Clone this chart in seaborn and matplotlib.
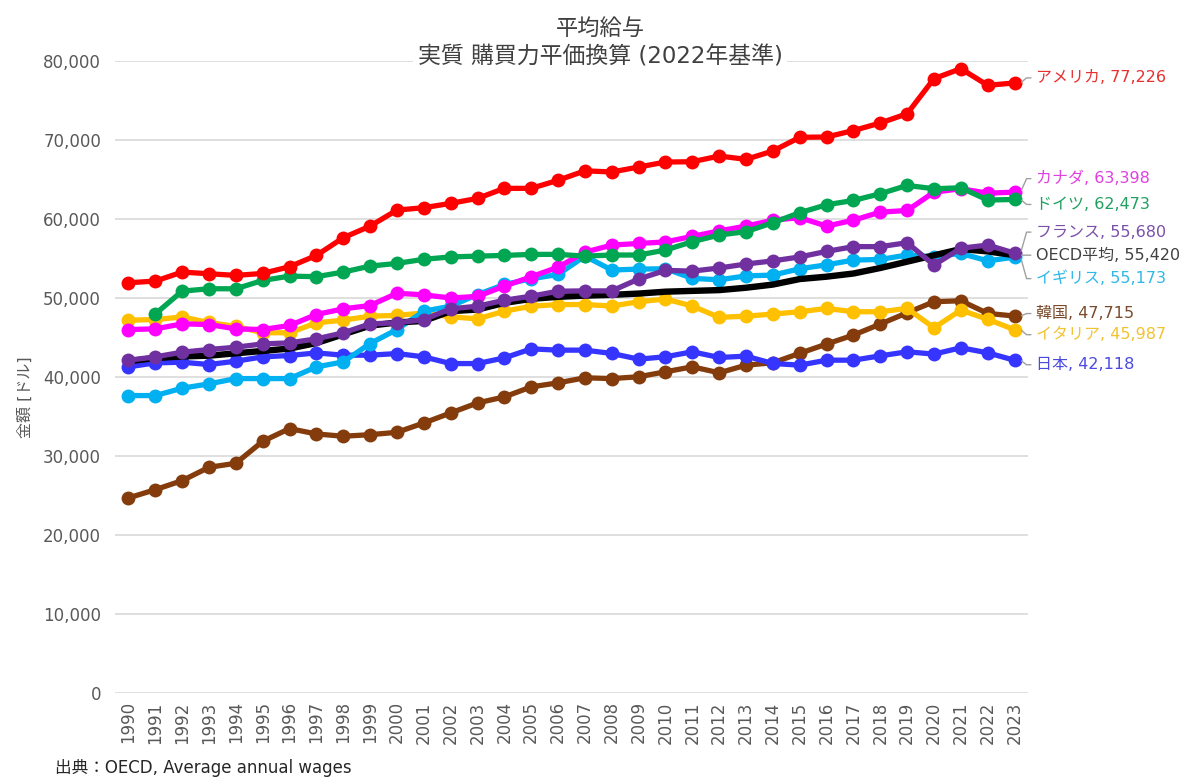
import numpy as np
import pandas as pd
import matplotlib
matplotlib.use("Agg")
import matplotlib.pyplot as plt
from matplotlib.ticker import FuncFormatter
import seaborn as sns

years = list(range(1990, 2024))

usa = [51930, 52140, 53280, 53070, 52860, 53110, 53960, 55390, 57630, 59100,
       61130, 61430, 61980, 62610, 63880, 63880, 64900, 66100, 65950, 66580,
       67210, 67250, 67970, 67550, 68610, 70340, 70380, 71200, 72150, 73330,
       77770, 79030, 76920, 77226]
canada = [46010, 46090, 46730, 46640, 46090, 46010, 46520, 47910, 48630, 49050,
          50600, 50400, 50000, 50200, 51500, 52690, 53900, 55800, 56700, 56900,
          57100, 57800, 58500, 59100, 59850, 60170, 59100, 59850, 60870, 61080,
          63400, 63830, 63270, 63398]
germany = [np.nan, 47980, 50870, 51170, 51170, 52220, 52770, 52700, 53280, 54040,
           54380, 54900, 55200, 55300, 55390, 55520, 55520, 55300, 55440, 55440,
           56070, 57130, 57970, 58400, 59530, 60800, 61800, 62350, 63200, 64250,
           63830, 63950, 62400, 62473]
france = [42120, 42550, 43140, 43480, 43770, 44190, 44320, 44830, 45590, 46730,
          46850, 47270, 48630, 48960, 49720, 50230, 50860, 50900, 50900, 52400,
          53500, 53400, 53800, 54300, 54700, 55200, 55900, 56500, 56500, 57000,
          54170, 56300, 56700, 55680]
oecd = [42000, 42400, 42600, 42700, 43000, 43300, 43600, 44300, 45400, 46500,
        46900, 47100, 48330, 48540, 49380, 49890, 50150, 50300, 50400, 50560,
        50800, 50900, 51000, 51300, 51700, 52400, 52700, 53100, 53800, 54600,
        55400, 56200, 55900, 55420]
uk = [37650, 37650, 38580, 39130, 39800, 39800, 39800, 41280, 41910, 44240,
      46010, 48330, 48960, 50440, 51710, 52430, 52980, 55300, 53540, 53660,
      53700, 52490, 52300, 52800, 52900, 53700, 54200, 54800, 54880, 55440,
      55230, 55650, 54700, 55173]
korea = [24690, 25740, 26880, 28570, 29080, 31860, 33470, 32790, 32500, 32700,
         33000, 34180, 35450, 36720, 37480, 38750, 39260, 39900, 39800, 40030,
         40660, 41290, 40530, 41500, 41800, 43000, 44170, 45310, 46700, 48130,
         49530, 49650, 48050, 47715]
italy = [47190, 47270, 47600, 46900, 46400, 45600, 45600, 46850, 47200, 47700,
         47800, 48100, 47620, 47360, 48330, 48960, 49170, 49170, 48980, 49530,
         49870, 48980, 47550, 47700, 47970, 48260, 48680, 48260, 48260, 48680,
         46230, 48470, 47300, 45987]
japan = [41280, 41790, 41870, 41580, 42000, 42550, 42720, 43050, 42760, 42760,
         42970, 42550, 41700, 41700, 42420, 43560, 43400, 43400, 42980, 42260,
         42560, 43190, 42470, 42640, 41710, 41500, 42130, 42130, 42680, 43190,
         42900, 43700, 43060, 42118]

names = ["韓国", "イタリア", "日本", "イギリス", "カナダ", "ドイツ", "OECD平均", "フランス", "アメリカ"]
series = [korea, italy, japan, uk, canada, germany, oecd, france, usa]
colors = ["#843C0C", "#FFC000", "#3535FF", "#00B0F0", "#FF00FF", "#00A651", "#000000", "#7030A0", "#FF0000"]
label_colors = ["#7a4a2a", "#f2c230", "#4a4ae0", "#30b8e8", "#e040e0", "#20a060", "#404040", "#7a50a8", "#e83030"]
# vertical offset (pixels) of the end labels
label_dy = [2.5, -5, -4.5, -21.5, 13.5, -5, 0, 21, 5]

sns.set_style("white")
plt.rcParams["font.family"] = ["DejaVu Sans", "Noto Sans CJK JP"]

fig = plt.figure(figsize=(12, 7.83), dpi=100)
ax = fig.add_axes([115 / 1200, 1 - 693 / 783, (1028 - 115) / 1200, (693 - 61) / 783])

for name, vals, col in zip(names, series, colors):
    df = pd.DataFrame({"year": years, "value": vals}).dropna()
    if name == "OECD平均":
        sns.lineplot(data=df, x="year", y="value", color=col, linewidth=4.6, ax=ax,
                     solid_capstyle="round", solid_joinstyle="round")
    else:
        sns.lineplot(data=df, x="year", y="value", color=col, linewidth=3.8, marker="o",
                     markersize=10, markeredgewidth=0, ax=ax,
                     solid_joinstyle="round")

for name, vals, lc, dy in zip(names, series, label_colors, label_dy):
    last = vals[-1]
    ax.annotate(f"{name}, {last:,}", xy=(years[-1], last), xytext=(21, dy),
                textcoords="offset pixels", ha="left", va="center",
                fontsize=11.5, color=lc, annotation_clip=False,
                arrowprops=dict(arrowstyle="-", color="#a0a0a0", lw=1.0,
                                shrinkA=1, shrinkB=5, relpos=(0, 0.5),
                                connectionstyle="arc,angleA=180,angleB=0,armA=9,armB=6,rad=0"))

ax.set_xlim(1989.5, 2023.5)
ax.set_ylim(0, 80000)
ax.set_xticks(years)
ax.set_xticklabels([str(y) for y in years], rotation=90)
ax.set_yticks(range(0, 80001, 10000))
ax.yaxis.set_major_formatter(FuncFormatter(lambda v, p: f"{v:,.0f}"))
ax.tick_params(axis="y", length=0, pad=10, labelsize=12, labelcolor="#595959")
ax.tick_params(axis="x", length=0, pad=6, labelsize=12, labelcolor="#595959")
ax.grid(axis="y", color="#d9d9d9", linewidth=1.2)
ax.grid(axis="x", visible=False)
ax.set_axisbelow(True)
for s in ax.spines.values():
    s.set_visible(False)
ax.set_xlabel("")
ax.set_ylabel("")

fig.text(0.5, 1 - 28 / 783, "平均給与", ha="center", va="center", fontsize=16, color="#404040")
fig.text(0.5, 1 - 57 / 783, "実質 購買力平価換算 (2022年基準)", ha="center", va="center",
         fontsize=16.5, color="#404040",
         bbox=dict(facecolor="white", edgecolor="none", pad=3))
fig.text(25 / 1200, 1 - 397 / 783, "金額 [ドル]", rotation=90, ha="center", va="center",
         fontsize=11.5, color="#595959")
fig.text(55 / 1200, 1 - 768 / 783, "出典：OECD, Average annual wages", ha="left", va="center",
         fontsize=12, color="#262626")

fig.savefig("out.png", dpi=100, facecolor="white")
